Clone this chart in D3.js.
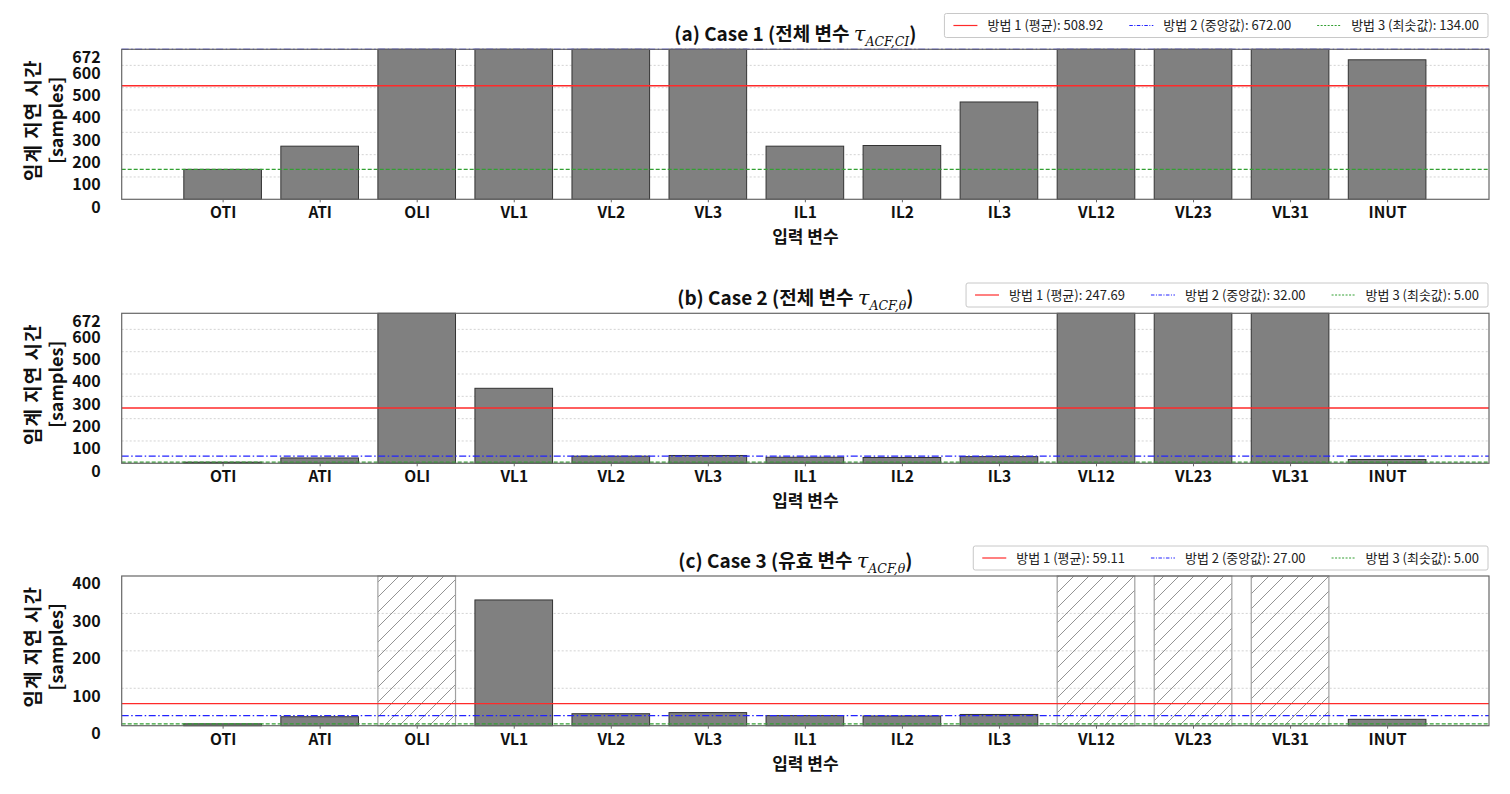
<!DOCTYPE html>
<html><head><meta charset="utf-8">
<script src="https://cdn.jsdelivr.net/npm/d3@7"></script>
<style>
body{margin:0;background:#fff;}
svg{display:block;font-family:"Noto Sans CJK KR","Noto Sans",sans-serif;}
</style></head>
<body>
<svg id="chart" width="1510" height="794"></svg>
<script>
const categories = ["OTI","ATI","OLI","VL1","VL2","VL3","IL1","IL2","IL3","VL12","VL23","VL31","INUT"];
const case1Values = [134,238,672,672,672,672,238,241,436,672,672,672,625];
const case2Values = [5,24,672,336,32,35,27,26,30,672,672,672,17];
const case3Values = [5,24,null,336,32,35,27,26,30,null,null,null,17];
const case3Invalid = ["OLI","VL12","VL23","VL31"];
const case1Refs = [508.92, 672.00, 134.00];
const case2Refs = [247.69, 32.00, 5.00];
const case3Refs = [59.11, 27.00, 5.00];
const refNames = ["방법 1 (평균)", "방법 2 (중앙값)", "방법 3 (최솟값)"];
const yTicksFull = [0,100,200,300,400,500,600,672];
const yTicksCase3 = [0,100,200,300,400];
const titleMain = ["(a) Case 1 (전체 변수 ", "(b) Case 2 (전체 변수 ", "(c) Case 3 (유효 변수 "];
const titleSub = ["ACF,CI", "ACF,θ", "ACF,θ"];
const yLabel = ["임계 지연 시간", "[samples]"];
const xLabel = "입력 변수";

const svg = d3.select("#chart");
const defs = svg.append("defs");
const pat = defs.append("pattern").attr("id","hatch").attr("patternUnits","userSpaceOnUse")
  .attr("width",15).attr("height",15);
pat.append("path").attr("d","M-1,1 l2,-2 M0,15 l15,-15 M14,16 l2,-2")
  .attr("stroke","#777").attr("stroke-width",0.8);

const left = 121.7, right = 1489;
const x = d3.scaleLinear().domain([-1.04, 13.05]).range([left, right]);
const barW = 0.8;

const refStyles = [
  {color:"#ff2a2a", dash:null, w:1.4},
  {color:"#2222ff", dash:"7,2.5,1.5,2.5", w:1.2},
  {color:"#33a033", dash:"4,2", w:1.2}
];
const legendDash = [null, "3.5,1.5,1,1.5", "2,1.5"];

const panels = [
  {top:49.3, bottom:199.3, ymax:672, ticks:yTicksFull, values:case1Values, refs:case1Refs, legY:13.5},
  {top:313.3, bottom:463.3, ymax:672, ticks:yTicksFull, values:case2Values, refs:case2Refs, legY:283},
  {top:576, bottom:725.7, ymax:400, ticks:yTicksCase3, values:case3Values, refs:case3Refs, legY:546, invalid:case3Invalid}
];

panels.forEach((p, pi) => {
  const y = d3.scaleLinear().domain([0, p.ymax]).range([p.bottom, p.top]);
  const g = svg.append("g");
  // grid
  g.selectAll(".grid").data(p.ticks.filter(t => t>0 && t<p.ymax)).join("line")
    .attr("x1", left).attr("x2", right).attr("y1", d=>y(d)).attr("y2", d=>y(d))
    .attr("stroke","#c8c8c8").attr("stroke-width",0.8).attr("stroke-dasharray","2,2");
  // hatched invalid bars
  if (p.invalid) {
    const inv = categories.map((c,i)=>({c,i})).filter(d=>p.invalid.includes(d.c));
    g.selectAll(".hb").data(inv).join("rect")
      .attr("x", d=>x(d.i-barW/2)).attr("width", d=>x(barW)-x(0))
      .attr("y", y(p.ymax)).attr("height", y(0)-y(p.ymax))
      .attr("fill","url(#hatch)").attr("stroke","#a0a0a0").attr("stroke-width",1.2);
  }
  // bars
  const bars = categories.map((c,i)=>({c,i,v:p.values[i]})).filter(d=>d.v!=null);
  g.selectAll(".bar").data(bars).join("rect")
    .attr("x", d=>x(d.i-barW/2)).attr("width", d=>x(barW)-x(0))
    .attr("y", d=>y(d.v)).attr("height", d=>y(0)-y(d.v))
    .attr("fill","#808080").attr("stroke","#333").attr("stroke-width",1);
  // reference lines
  p.refs.forEach((r, ri) => {
    const s = refStyles[ri];
    g.append("line").attr("x1",left).attr("x2",right).attr("y1",y(r)).attr("y2",y(r))
      .attr("stroke",s.color).attr("stroke-width",s.w)
      .attr("stroke-dasharray", s.dash);
  });
  // frame
  g.append("rect").attr("x",left).attr("y",p.top).attr("width",right-left).attr("height",p.bottom-p.top)
    .attr("fill","none").attr("stroke","#666").attr("stroke-width",1.2);
  // y axis
  const yAxis = d3.axisLeft(y).tickValues(p.ticks).tickSize(0).tickPadding(21).tickFormat(d3.format("d"));
  const ya = g.append("g").attr("transform",`translate(${left},0)`).call(yAxis);
  ya.select(".domain").remove();
  ya.selectAll("text").attr("font-size",16).attr("font-weight","bold").attr("fill","#111")
    .attr("dy","0.8em").attr("font-family",'"Noto Sans CJK KR","Noto Sans",sans-serif');
  // x axis
  const xAxis = d3.axisBottom(x).tickValues(d3.range(categories.length)).tickSize(3).tickPadding(5)
    .tickFormat(i=>categories[i]);
  const xa = g.append("g").attr("transform",`translate(0,${p.bottom})`).call(xAxis);
  xa.select(".domain").remove();
  xa.selectAll("line").attr("stroke","#666");
  xa.selectAll("text").attr("font-size",15.5).attr("font-weight","bold").attr("fill","#111")
    .attr("font-family",'"Noto Sans CJK KR","Noto Sans",sans-serif');
  // x label
  g.append("text").attr("x",(left+right)/2).attr("y",p.bottom+44).attr("text-anchor","middle")
    .attr("font-size",17).attr("font-weight","bold").attr("fill","#111").text(xLabel);
  // y label
  const cy = (p.top+p.bottom)/2 - 4;
  g.append("text").attr("transform",`translate(40,${cy}) rotate(-90)`).attr("text-anchor","middle")
    .attr("font-size",19).attr("font-weight","bold").attr("fill","#111").attr("letter-spacing","1")
    .text(yLabel[0]);
  g.append("text").attr("transform",`translate(63,${cy}) rotate(-90)`).attr("text-anchor","middle")
    .attr("font-size",18).attr("font-weight","bold").attr("fill","#111").text(yLabel[1]);
  // title
  const t = g.append("text").attr("x",(left+right)/2 - 10).attr("y",p.top-8).attr("text-anchor","middle")
    .attr("font-size",19).attr("font-weight","bold").attr("fill","#111");
  t.append("tspan").text(titleMain[pi]);
  t.append("tspan").attr("font-family","DejaVu Serif").attr("font-style","italic").attr("font-weight","normal")
    .attr("font-size",21).text("τ");
  t.append("tspan").attr("font-family","DejaVu Serif").attr("font-style","italic").attr("font-weight","normal")
    .attr("font-size",12.5).attr("dy",5).text(titleSub[pi]);
  t.append("tspan").attr("dy",-5).text(")");
  // legend
  const lg = g.append("g");
  const box = lg.append("rect").attr("y",p.legY).attr("height",24).attr("rx",2)
    .attr("fill","#fff").attr("stroke","#c8c8c8").attr("stroke-width",1);
  const items = [];
  p.refs.forEach((r, ri) => {
    const it = lg.append("g");
    it.append("line").attr("x1",0).attr("x2",24).attr("y1",0).attr("y2",0)
      .attr("stroke",refStyles[ri].color).attr("stroke-width",1.2).attr("stroke-dasharray",legendDash[ri]);
    const tx = it.append("text").attr("x",34).attr("y",4.5).attr("font-size",13).attr("fill","#222")
      .text(`${refNames[ri]}: ${r.toFixed(2)}`);
    const w = 34 + tx.node().getComputedTextLength();
    items.push({it, w});
  });
  const gap = 26, pad = 9;
  const total = pad*2 + d3.sum(items, d=>d.w) + gap*(items.length-1);
  const bx = right - 1 - total;
  box.attr("x", bx).attr("width", total);
  let cx = bx + pad;
  items.forEach(d => { d.it.attr("transform",`translate(${cx},${p.legY+12})`); cx += d.w + gap; });
});
</script>
</body></html>
